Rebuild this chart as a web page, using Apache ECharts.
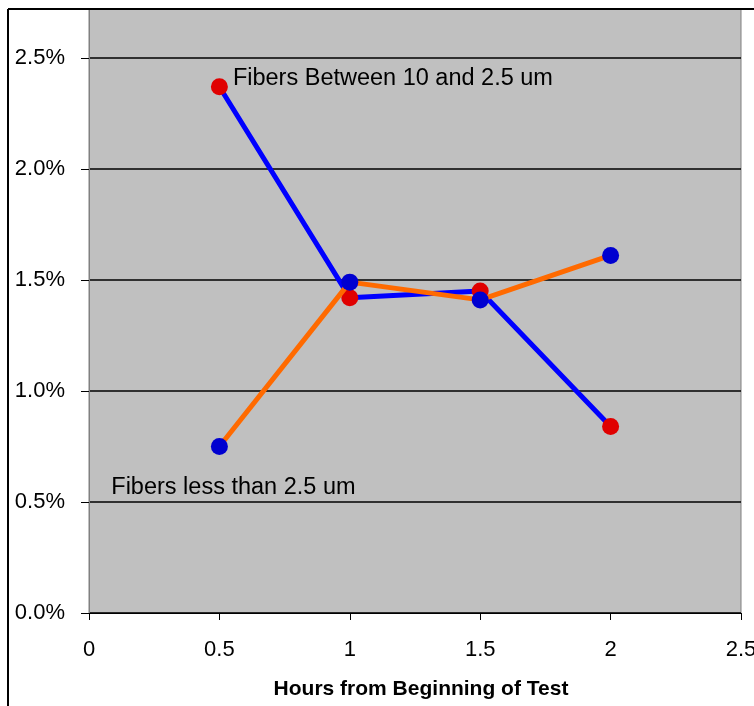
<!DOCTYPE html>
<html>
<head>
<meta charset="utf-8">
<script src="https://cdn.jsdelivr.net/npm/echarts@6/dist/echarts.min.js"></script>
<style>
html,body{margin:0;padding:0;background:#fff;}
#c{width:754px;height:706px;}
</style>
</head>
<body>
<div id="c"></div>
<script>
var hours = [0.5, 1, 1.5, 2];
var between10and25 = [2.37, 1.42, 1.45, 0.84];
var lessThan25 = [0.75, 1.49, 1.41, 1.61];
var xTicks = [0, 0.5, 1, 1.5, 2, 2.5];
var yTicks = [0, 0.5, 1.0, 1.5, 2.0, 2.5];
var yVisibleTop = 2.72;
var label1 = 'Fibers Between 10 and 2.5 um';
var label2 = 'Fibers less than 2.5 um';
var xTitle = 'Hours from Beginning of Test';

var FONT = '"Liberation Sans", Arial, sans-serif';

function pts(vals, labelIdx, labelText, labelOpt) {
  return hours.map(function (h, i) {
    var d = { value: [h, vals[i]] };
    if (i === labelIdx) {
      d.label = Object.assign({
        show: true, formatter: labelText, color: '#000',
        fontFamily: FONT, fontSize: 23.5
      }, labelOpt);
    }
    return d;
  });
}

var chart = echarts.init(document.getElementById('c'), null, { renderer: 'canvas' });
chart.setOption({
  animation: false,
  backgroundColor: '#fff',
  grid: {
    left: 89, right: 13, top: 9, bottom: 93,
    outerBoundsMode: 'none', containLabel: false,
    show: true, backgroundColor: '#c0c0c0', borderColor: '#808080', borderWidth: 1
  },
  xAxis: {
    type: 'value', min: xTicks[0], max: xTicks[xTicks.length - 1], interval: 0.5,
    name: xTitle, nameLocation: 'middle', nameGap: 66,
    nameTextStyle: { fontFamily: FONT, fontSize: 21, fontWeight: 'bold', color: '#000', padding: [0, 0, 0, 12] },
    axisLine: { show: true, lineStyle: { color: '#000', width: 1 } },
    axisTick: { show: true, length: 7, lineStyle: { color: '#000' } },
    axisLabel: {
      margin: 26, fontFamily: FONT, fontSize: 22, color: '#000',
      formatter: function (v) { return String(v); }
    },
    splitLine: { show: false }
  },
  yAxis: {
    type: 'value', min: yTicks[0], max: yVisibleTop, interval: 0.5,
    axisLine: { show: true, lineStyle: { color: '#808080', width: 1 } },
    axisTick: { show: true, length: 8, lineStyle: { color: '#000' } },
    axisLabel: {
      margin: 24, fontFamily: FONT, fontSize: 22, color: '#000', showMaxLabel: false,
      formatter: function (v) { return yTicks.indexOf(v) >= 0 ? v.toFixed(1) + '%' : ''; }
    },
    splitLine: { show: true, lineStyle: { color: '#000', width: 1.5 } }
  },
  series: [
    {
      name: label1, type: 'line',
      data: pts(between10and25, 0, label1, { position: 'right', offset: [0, -8] }),
      lineStyle: { color: '#0000ff', width: 5 },
      itemStyle: { color: '#e00000' },
      symbol: 'circle', symbolSize: 17, showAllSymbol: true, z: 2
    },
    {
      name: label2, type: 'line',
      data: pts(lessThan25, 0, label2, { position: 'bottom', offset: [14, 16] }),
      lineStyle: { color: '#ff6a00', width: 5 },
      itemStyle: { color: '#0000d0' },
      symbol: 'circle', symbolSize: 17, showAllSymbol: true, z: 3
    }
  ],
  graphic: [
    { type: 'line', z: 102, shape: { x1: 8, y1: 9, x2: 754, y2: 9 }, style: { stroke: '#000', lineWidth: 2 } },
    { type: 'line', z: 102, shape: { x1: 8, y1: 9, x2: 8, y2: 706 }, style: { stroke: '#000', lineWidth: 2 } }
  ]
});
</script>
</body>
</html>
